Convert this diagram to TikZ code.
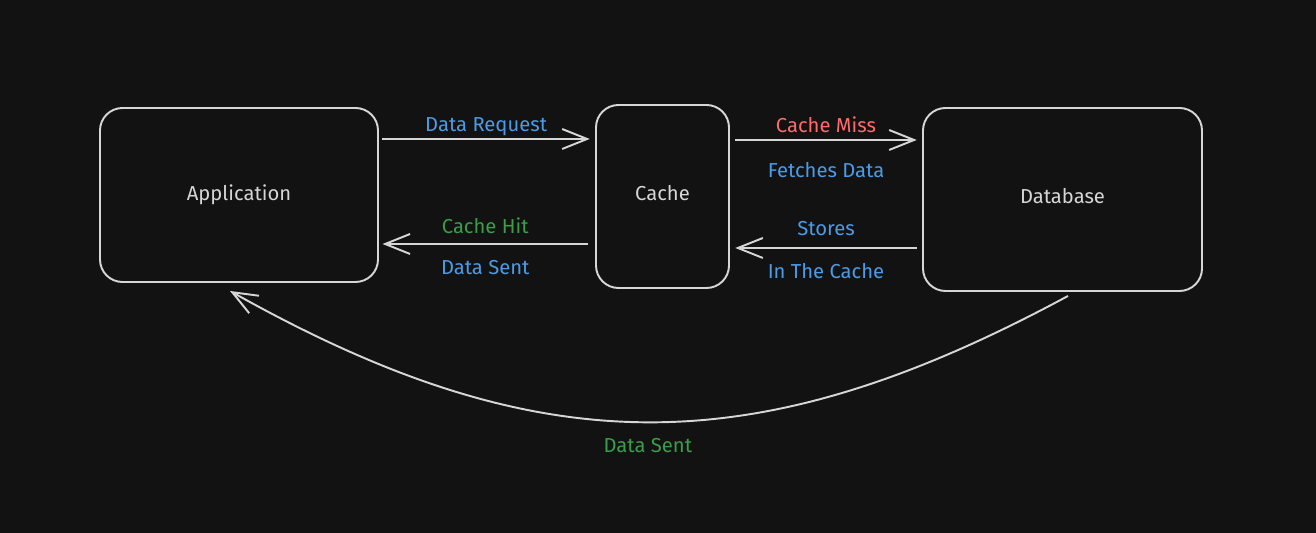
\documentclass[tikz,border=0pt]{standalone}
\usepackage{fontspec}
\setmainfont{Fira Sans}
\usetikzlibrary{arrows.meta, positioning}

\definecolor{bgdark}{HTML}{121212}
\definecolor{strokegray}{HTML}{D6D6D6}
\definecolor{msgblue}{HTML}{4A9BE8}
\definecolor{msgred}{HTML}{FF6B6B}
\definecolor{msggreen}{HTML}{3A9E48}

\tikzset{
  block/.style={draw=strokegray, line width=1.1pt, rounded corners=0.45cm,
    text=strokegray, font=\fontsize{11.5}{13}\selectfont},
  msg/.style={font=\fontsize{11.5}{13}\selectfont, text height=1.6ex, text depth=0.4ex},
  flow/.style={draw=strokegray, line width=1.1pt,
    -{Straight Barb[length=5mm,width=4mm,line width=1.1pt]}}
}

\begin{document}
\begin{tikzpicture}[auto]

  \fill[bgdark] (0,0) rectangle (26.32,10.66);
  \useasboundingbox (0,0) rectangle (26.32,10.66);

% define the blocks
  \node[block, minimum width=5.56cm, minimum height=3.48cm] (app)   at (4.78,6.76)
{Application};
  \node[block, minimum width=2.66cm, minimum height=3.66cm] (cache) at (13.25,6.73)
{\raisebox{4pt}{Cache}};
  \node[block, minimum width=5.58cm, minimum height=3.66cm] (db)    at (21.25,6.67)
{\raisebox{4pt}{Database}};

% define the links
  \path ([xshift=2pt,yshift=1.12cm]app.east) edge[flow]
          node[msg, above=-2pt, text=msgblue] {Data Request}
          ([xshift=-3pt,yshift=1.15cm]cache.west)
        ([xshift=-4pt,yshift=-0.95cm]cache.west) edge[flow]
          node[msg, above=0pt, text=msggreen] {Cache Hit}
          node[msg, below=5pt, text=msgblue] {Data Sent}
          ([xshift=2pt,yshift=-0.98cm]app.east)
        ([xshift=3pt,yshift=1.13cm]cache.east) edge[flow]
          node[msg, above=-2pt, text=msgred] {Cache Miss}
          node[msg, below=9pt, text=msgblue] {Fetches Data}
          ([xshift=-3pt,yshift=1.19cm]db.west)
        ([xshift=-3pt,yshift=-0.97cm]db.west) edge[flow]
          node[msg, above=1pt, text=msgblue] {Stores}
          node[msg, below=5pt, text=msgblue] {In The Cache}
          ([xshift=3pt,yshift=-1.03cm]cache.east);

  \coordinate (dbfoot) at ([xshift=0.11cm,yshift=-0.08cm]db.south);
  \coordinate (appfoot) at ([xshift=-0.18cm,yshift=-0.16cm]app.south);
  \draw[flow] (dbfoot) .. controls (15.1,1.36) and (10.8,1.36) .. (appfoot)
    node[pos=0.5, below=5pt, msg, text=msggreen] {Data Sent};

\end{tikzpicture}
\end{document}
